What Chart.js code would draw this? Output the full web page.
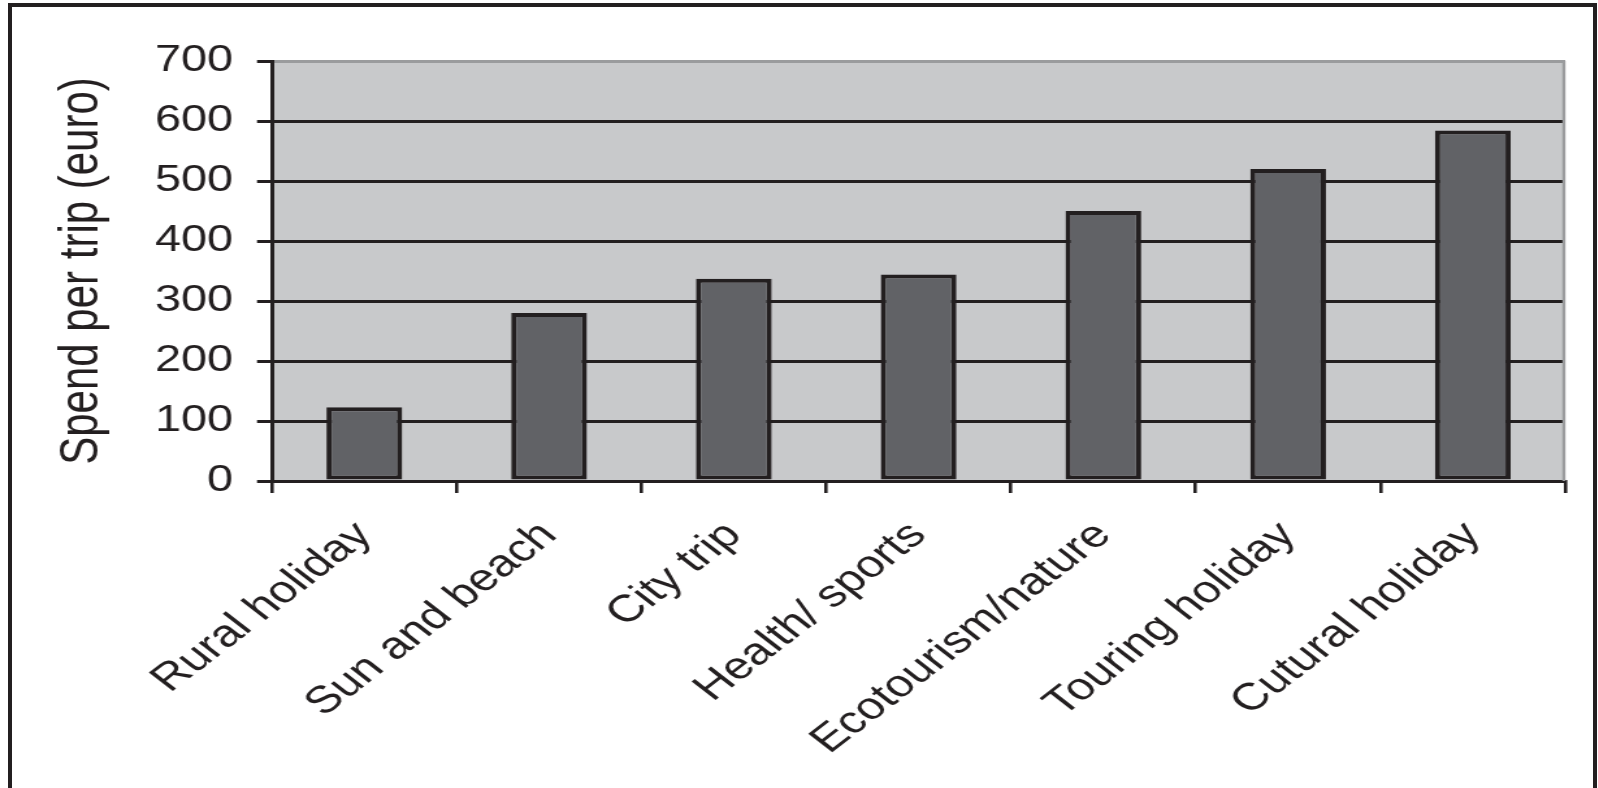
<!DOCTYPE html>
<html>
<head>
<meta charset="utf-8">
<script src="https://cdn.jsdelivr.net/npm/chart.js@4"></script>
<style>
body { margin: 0; background: #ffffff; width: 1598px; height: 788px; overflow: hidden; position: relative; }
#wrap { position: absolute; left: 0; top: 0; width: 1230px; height: 788px; transform: scaleX(1.3); transform-origin: 0 0; }
#frame { position: absolute; left: 8px; top: 3px; width: 1581px; height: 800px; border: 4px solid #231f20; border-bottom: none; }
</style>
</head>
<body>
<div id="wrap"><canvas id="chart" width="1230" height="788"></canvas></div>
<div id="frame"></div>
<script>

const categories = ["Rural holiday", "Sun and beach", "City trip", "Health/ sports", "Ecotourism/nature", "Touring holiday", "Cutural holiday"];
const spend = [123, 280, 337, 344, 450, 520, 584];
const yTicks = [0, 100, 200, 300, 400, 500, 600, 700];

const ink = '#231f20';

// grey plot background and the grey right edge
const plotBox = {
  id: 'plotBox',
  beforeDraw(chart) {
    const ctx = chart.ctx;
    const a = chart.chartArea;
    ctx.save();
    ctx.fillStyle = '#c8c9cb';
    ctx.fillRect(a.left, a.top, a.right - a.left, a.bottom - a.top);
    ctx.restore();
  },
  beforeDatasetsDraw(chart) {
    const ctx = chart.ctx;
    const a = chart.chartArea;
    ctx.save();
    ctx.strokeStyle = '#9a9b9d';
    ctx.lineWidth = 2.4;
    ctx.beginPath();
    ctx.moveTo(a.right - 1, a.top);
    ctx.lineTo(a.right - 1, a.bottom);
    ctx.stroke();
    ctx.restore();
  }
};

const ctx = document.getElementById('chart').getContext('2d');

const myChart = new Chart(ctx, {
  type: 'bar',
  data: {
    labels: categories,
    datasets: [{
      label: 'Spend per trip (euro)',
      data: spend,
      backgroundColor: '#616266',
      borderColor: ink,
      borderWidth: 4,
      borderSkipped: false,
      barPercentage: 0.41,
      categoryPercentage: 1
    }]
  },
  options: {
    responsive: false,
    animation: false,
    layout: { padding: { top: 61, right: 26, left: 0, bottom: 0 } },
    plugins: {
      legend: { display: false },
      tooltip: { enabled: false }
    },
    scales: {
      x: {
        afterFit(scale) { scale.height = 307; },
        grid: {
          offset: true,
          drawOnChartArea: false,
          tickLength: 12,
          tickColor: ink,
          lineWidth: 2.6
        },
        border: { display: true, color: ink, width: 3 },
        ticks: {
          autoSkip: false,
          maxRotation: 45,
          minRotation: 45,
          padding: 20,
          color: ink,
          font: { family: 'Liberation Sans', size: 38 }
        }
      },
      y: {
        min: 0,
        max: 700,
        afterFit(scale) { scale.width = 209.2; },
        afterBuildTicks(scale) { scale.ticks = yTicks.map(v => ({ value: v })); },
        grid: {
          color: c => (c.tick && c.tick.value === 700) ? '#9a9b9d' : ink,
          tickColor: ink,
          lineWidth: 3,
          tickLength: 11.5
        },
        border: { display: true, color: ink, width: 3 },
        ticks: {
          padding: 18.5,
          color: ink,
          font: { family: 'Liberation Sans', size: 36 }
        },
        title: {
          display: true,
          text: 'Spend per trip (euro)',
          color: ink,
          padding: { top: 37.8, bottom: 0 },
          font: { family: 'Liberation Sans', size: 42 }
        }
      }
    }
  },
  plugins: [plotBox]
});

</script>
</body>
</html>
